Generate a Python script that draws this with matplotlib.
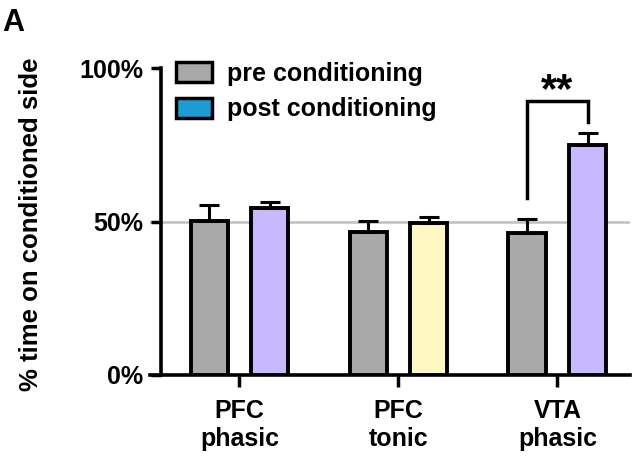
import matplotlib
matplotlib.use('Agg')
import matplotlib.pyplot as plt
from matplotlib.patches import Patch

plt.rcParams['font.family'] = ['Liberation Sans', 'DejaVu Sans']
plt.rcParams['font.weight'] = 'bold'

groups = ['PFC\nphasic', 'PFC\ntonic', 'VTA\nphasic']
pre = [50.1, 46.6, 46.2]
pre_err = [5.2, 3.5, 4.5]
post = [54.3, 49.5, 74.9]
post_err = [1.9, 2.0, 3.9]
post_colors = ['#c8b9ff', '#fff8c2', '#c8b9ff']
legend_labels = ['pre conditioning', 'post conditioning']
legend_colors = ['#a9a9a9', '#1f9bd4']
yticks = [0, 50, 100]
sig_text = '**'

fig = plt.figure(figsize=(6.4, 4.59), dpi=100)
ax = fig.add_axes([150/640, 84/459, 480/640, 307/459])

# spine setup first (set_position resets tick label styles)
for s in ['top', 'right']:
    ax.spines[s].set_visible(False)
for s in ['left', 'bottom']:
    ax.spines[s].set_linewidth(2.6)
ax.spines['left'].set_position(('axes', 0.023))

x = list(range(len(groups)))
off = 0.19
w = 0.235
xpre = [i - off for i in x]
xpost = [i + off for i in x]

ax.axhline(50, color='#c0c0c0', lw=1.8, zorder=0)

ekw = dict(elinewidth=2.2, capthick=2.2, ecolor='black')
ax.bar(xpre, pre, width=w, color='#a9a9a9', edgecolor='black', lw=2.8, zorder=3,
       yerr=[[0]*3, pre_err], capsize=7.5, error_kw=ekw)
ax.bar(xpost, post, width=w, color=post_colors, edgecolor='black', lw=2.8, zorder=3,
       yerr=[[0]*3, post_err], capsize=7.5, error_kw=ekw)

# significance bracket over VTA phasic
ax.plot([xpre[2], xpre[2], xpost[2], xpost[2]], [57.7, 89.2, 89.2, 82.4],
        color='black', lw=2.5, clip_on=False, solid_joinstyle='miter')
ax.text(x[2], 92.5, sig_text, ha='center', va='center', fontsize=30, fontweight='bold')

ax.set_xlim(-0.563, 2.457)
ax.set_ylim(0, 100)
ax.set_xticks(x)
ax.set_xticklabels(groups, fontsize=18, fontweight='bold')
ax.set_yticks(yticks)
ax.set_yticklabels([f'{v}%' for v in yticks], fontsize=18, fontweight='bold')
ax.tick_params(axis='y', length=7, width=2.5, pad=6)
ax.tick_params(axis='x', length=8.5, width=2.5, pad=9)

ax.set_ylabel('% time on conditioned side', fontsize=18.5, fontweight='bold')
ax.yaxis.set_label_coords(-0.222, 0.49)

handles = [Patch(facecolor=c, edgecolor='black', lw=2.5) for c in legend_colors]
fig.legend(handles, legend_labels, loc='upper left', bbox_to_anchor=(176/640, 1 - 62/459),
           frameon=False, borderpad=0, borderaxespad=0,
           handlelength=1.45, handleheight=0.85, handletextpad=0.6, labelspacing=0.45,
           prop={'weight': 'bold', 'size': 18})

fig.text(2/640, 1 - 31/459, 'A', fontsize=22, fontweight='bold')

fig.savefig('out.png', dpi=100)
